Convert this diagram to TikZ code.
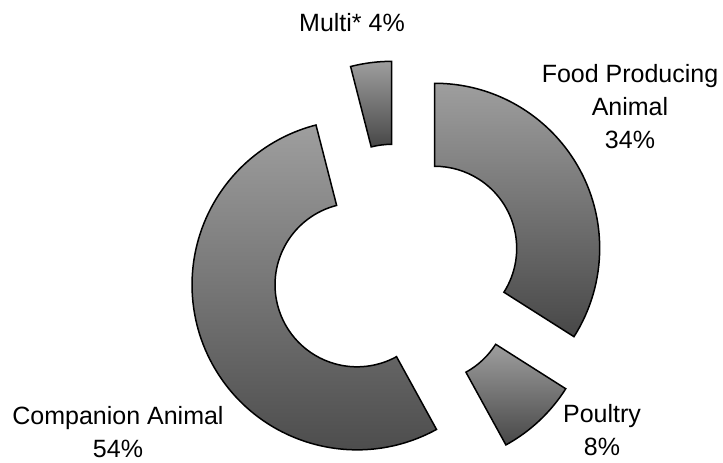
\documentclass[tikz,border=0pt]{standalone}
\usepackage{fontspec}
\setmainfont{Liberation Sans}
\begin{document}
\begin{tikzpicture}[x=1pt, y=1pt]

    \tikzstyle{ringslice} = [draw=black, line width=1.5pt, top color=black!38, bottom color=black!72];
    \tikzstyle{pielabel} = [align=center, font=\fontsize{25}{33}\selectfont, inner sep=0pt];

    \useasboundingbox (0,0) rectangle (723,463);

    % Slices - exploded from the centre
    \begin{scope}[shift={(397,194)}]
    \draw[ringslice, shift={(28.8:43)}] (90:165) arc[start angle=90, end angle=-32.4, radius=165]
        -- (-32.4:82) arc[start angle=-32.4, end angle=90, radius=82] -- cycle;

    \draw[ringslice, shift={(-46.8:43)}] (-32.4:165) arc[start angle=-32.4, end angle=-61.2, radius=165]
        -- (-61.2:82) arc[start angle=-61.2, end angle=-32.4, radius=82] -- cycle;

    \draw[ringslice, shift={(-158.4:43)}] (-61.2:165) arc[start angle=-61.2, end angle=-255.6, radius=165]
        -- (-255.6:82) arc[start angle=-255.6, end angle=-61.2, radius=82] -- cycle;

    \draw[ringslice, shift={(97.2:43)}] (104.4:165) arc[start angle=104.4, end angle=90, radius=165]
        -- (90:82) arc[start angle=90, end angle=104.4, radius=82] -- cycle;
    \end{scope}
    % Slices

    % Labels
    \node[pielabel, anchor=base] (multi) at (352,431) {Multi* 4\%};
    \node[pielabel] (food) at (630,356) {Food Producing\\Animal\\34\%};
    \node[pielabel] (poultry) at (602,33) {Poultry\\8\%};
    \node[pielabel] (companion) at (118,31) {Companion Animal\\54\%};
    % Labels

\end{tikzpicture}
\end{document}
